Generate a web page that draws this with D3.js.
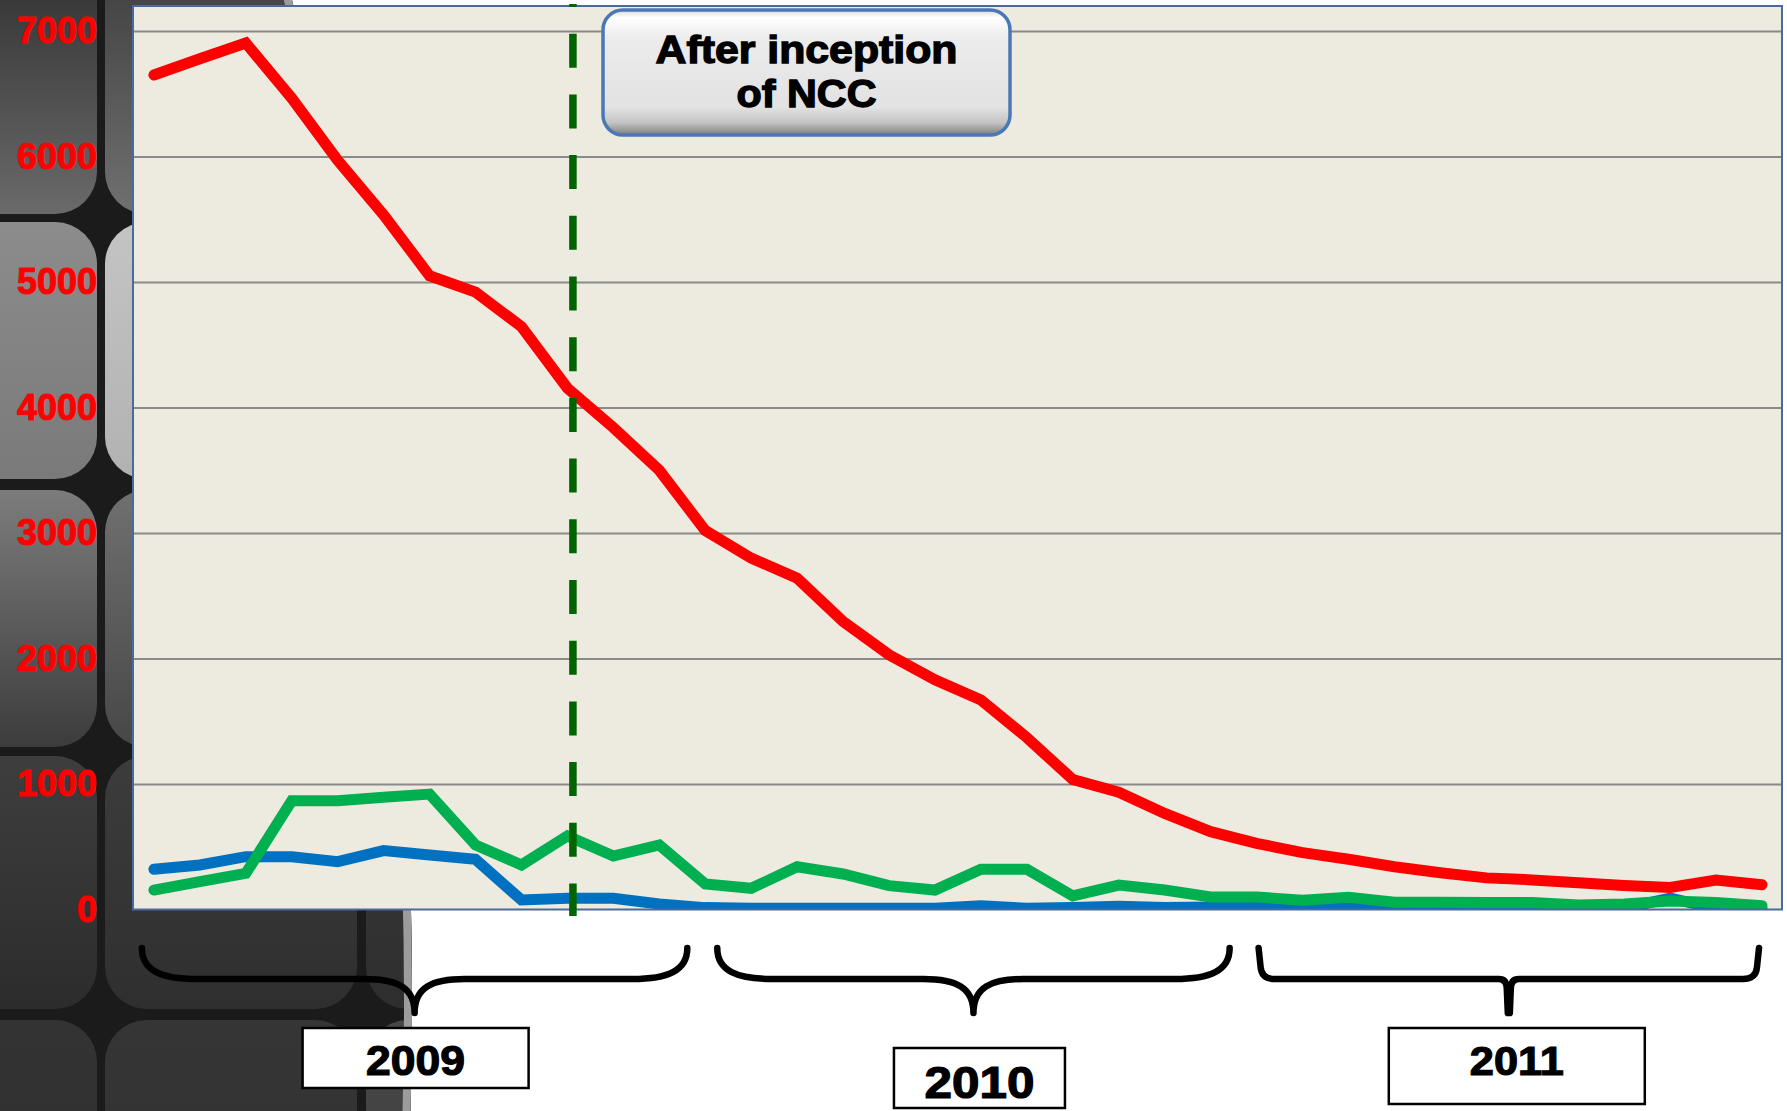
<!DOCTYPE html>
<html>
<head>
<meta charset="utf-8">
<script src="https://cdn.jsdelivr.net/npm/d3@7"></script>
<style>
  html, body { margin: 0; padding: 0; background: #ffffff; }
  svg { display: block; }
  text { font-family: "Liberation Sans", Arial, sans-serif; }
</style>
</head>
<body>
<svg id="chart" width="1787" height="1111"></svg>
<script>
// ---------------- DATA ----------------
const months = [
  "Jan 2009","Feb 2009","Mar 2009","Apr 2009","May 2009","Jun 2009","Jul 2009","Aug 2009","Sep 2009","Oct 2009","Nov 2009","Dec 2009",
  "Jan 2010","Feb 2010","Mar 2010","Apr 2010","May 2010","Jun 2010","Jul 2010","Aug 2010","Sep 2010","Oct 2010","Nov 2010","Dec 2010",
  "Jan 2011","Feb 2011","Mar 2011","Apr 2011","May 2011","Jun 2011","Jul 2011","Aug 2011","Sep 2011","Oct 2011","Nov 2011","Dec 2011"
];
const redSeries = [6650, 6780, 6905, 6465, 5970, 5535, 5050, 4920, 4645, 4155, 3840, 3500,
                   3020, 2800, 2640, 2295, 2030, 1830, 1670, 1370, 1035, 935, 766, 620,
                   527, 453, 400, 341, 293, 252, 236, 213, 192, 175, 235, 198];
const greenSeries = [155, 222, 288, 867, 867, 894, 920, 514, 355, 586, 426, 514,
                     203, 169, 341, 283, 190, 155, 320, 320, 108, 195, 155, 100,
                     100, 74, 97, 58, 57, 55, 55, 36, 44, 68, 55, 30];
const blueSeries = [320, 355, 421, 421, 381, 469, 434, 400, 76, 89, 89, 44,
                    15, 10, 10, 10, 10, 10, 30, 10, 15, 25, 15, 20,
                    25, 20, 15, 20, 10, 8, 5, 5, 10, 90, 8, 8];
const yTicks = [0, 1000, 2000, 3000, 4000, 5000, 6000, 7000];
const yMax = 7200;
const years = ["2009", "2010", "2011"];
const yearFirstMonth = [0, 12, 24];
const yearLastMonth = [11, 23, 35];
const nccMonthPos = 9.12;           // position of "After inception of NCC" marker (in month index units)
const annotationLines = ["After inception", "of NCC"];

// ---------------- LAYOUT ----------------
const W = 1787, H = 1111;
const plot = { left: 133, right: 1782, top: 6, bottom: 909.5 };
const svg = d3.select("#chart");
const defs = svg.append("defs");

// ---------------- BACKGROUND DECORATION ----------------
svg.append("rect").attr("width", W).attr("height", H).attr("fill", "#ffffff");
const bigCircle = { cx: -3815, cy: 1000, r: 4227 };
defs.append("clipPath").attr("id", "bgclip")
  .append("circle").attr("cx", bigCircle.cx).attr("cy", bigCircle.cy).attr("r", bigCircle.r);
const bg = svg.append("g").attr("clip-path", "url(#bgclip)");
bg.append("rect").attr("width", 600).attr("height", H).attr("fill", "#1b1b1b");

const tileCols = [[-60, 97], [105, 357], [366, 640]];
const tileRows = [[-60, 214], [222, 479], [490, 747], [756, 1009], [1020, 1300]];
const tileGrad = [
  [["#2c2c2c", "#6a6a6a"], ["#8c8c8c", "#7a7a7a"], ["#7c7c7c", "#3c3c3c"], ["#3e3e3e", "#2c2c2c"], ["#333333", "#2e2e2e"]],
  [["#3a3a3a", "#707070"], ["#c4c4c4", "#b2b2b2"], ["#707070", "#474747"], ["#3c3c3c", "#2f2f2f"], ["#353535", "#303030"]],
  [["#3a3a3a", "#6a6a6a"], ["#9a9a9a", "#8a8a8a"], ["#606060", "#444444"], ["#3a3a3a", "#2e2e2e"], ["#474747", "#3d3d3d"]]
];
tileCols.forEach((c, ci) => {
  tileRows.forEach((r, ri) => {
    const id = `tg${ci}_${ri}`;
    const g = defs.append("linearGradient").attr("id", id).attr("x1", 0).attr("y1", 0).attr("x2", 0).attr("y2", 1);
    g.append("stop").attr("offset", "0%").attr("stop-color", tileGrad[ci][ri][0]);
    g.append("stop").attr("offset", "100%").attr("stop-color", tileGrad[ci][ri][1]);
    bg.append("rect").attr("x", c[0]).attr("y", r[0]).attr("width", c[1] - c[0]).attr("height", r[1] - r[0])
      .attr("rx", 42).attr("ry", 42).attr("fill", `url(#${id})`);
  });
});
svg.append("circle").attr("cx", bigCircle.cx).attr("cy", bigCircle.cy).attr("r", bigCircle.r - 4)
  .attr("fill", "none").attr("stroke", "#9c9c9c").attr("stroke-width", 8);

// ---------------- SCALES ----------------
const x = d3.scaleLinear().domain([0, months.length - 1]).range([153.9, 1762]);
const y = d3.scaleLinear().domain([0, yMax]).range([plot.bottom, plot.top]);
const plotW = plot.right - plot.left;

// plot background
svg.append("rect").attr("x", plot.left).attr("y", plot.top)
  .attr("width", plotW).attr("height", plot.bottom - plot.top).attr("fill", "#edeadf");

// gridlines
const grid = svg.append("g").attr("transform", `translate(${plot.left},0)`)
  .call(d3.axisLeft(y).tickValues(yTicks.filter(t => t > 0)).tickSize(-plotW).tickFormat(""));
grid.select(".domain").remove();
grid.selectAll(".tick line").attr("stroke", "#8a8a8a").attr("stroke-width", 2);

// y axis labels
const yAxis = svg.append("g").attr("transform", `translate(${plot.left},0)`)
  .call(d3.axisLeft(y).tickValues(yTicks).tickSize(0).tickPadding(36).tickFormat(d3.format("d")));
yAxis.select(".domain").remove();
yAxis.selectAll(".tick text")
  .attr("fill", "#ff0000").attr("font-size", 36).attr("font-weight", "bold")
  .attr("stroke", "#ff0000").attr("stroke-width", 1)
  .attr("font-family", "'Liberation Sans', Arial, sans-serif");

// ---------------- LINES ----------------
defs.append("clipPath").attr("id", "plotclip")
  .append("rect").attr("x", plot.left).attr("y", plot.top).attr("width", plotW).attr("height", plot.bottom - plot.top);
const line = d3.line().x((d, i) => x(i)).y(d => y(d));
const linesG = svg.append("g").attr("clip-path", "url(#plotclip)");
[[blueSeries, "#0070c0"], [greenSeries, "#00b050"], [redSeries, "#ff0000"]].forEach(([s, c]) => {
  linesG.append("path").datum(s).attr("d", line)
    .attr("fill", "none").attr("stroke", c).attr("stroke-width", 11)
    .attr("stroke-linecap", "round").attr("stroke-linejoin", "miter").attr("stroke-miterlimit", 3);
});

// plot border
svg.append("rect").attr("x", plot.left).attr("y", plot.top)
  .attr("width", plotW).attr("height", plot.bottom - plot.top)
  .attr("fill", "none").attr("stroke", "#4a6a9c").attr("stroke-width", 2);

// ---------------- NCC MARKER ----------------
svg.append("line")
  .attr("x1", x(nccMonthPos)).attr("x2", x(nccMonthPos))
  .attr("y1", 4).attr("y2", 916)
  .attr("stroke", "#006400").attr("stroke-width", 7.5)
  .attr("stroke-dasharray", "34 26.7").attr("stroke-dashoffset", 31);

// annotation box
const boxGrad = defs.append("linearGradient").attr("id", "boxgrad").attr("x1", 0).attr("y1", 0).attr("x2", 0).attr("y2", 1);
[["0%", "#d8d8d8"], ["6%", "#ffffff"], ["22%", "#ececec"], ["78%", "#e2e2e2"], ["90%", "#c4c4c4"], ["100%", "#7e7e7e"]]
  .forEach(([o, c]) => boxGrad.append("stop").attr("offset", o).attr("stop-color", c));
const box = { x: 603, y: 10, w: 407, h: 125 };
svg.append("rect").attr("x", box.x).attr("y", box.y).attr("width", box.w).attr("height", box.h)
  .attr("rx", 20).attr("ry", 20).attr("fill", "url(#boxgrad)")
  .attr("stroke", "#4a78b5").attr("stroke-width", 3.5);
const annLens = [302, 140];
const annBase = [63, 107];
annotationLines.forEach((t, i) => {
  svg.append("text").attr("x", box.x + box.w / 2).attr("y", annBase[i])
    .attr("text-anchor", "middle").attr("font-size", 38).attr("font-weight", "bold")
    .attr("stroke", "#000").attr("stroke-width", 1.3)
    .attr("textLength", annLens[i]).attr("lengthAdjust", "spacingAndGlyphs")
    .attr("fill", "#000").text(t);
});

// ---------------- YEAR BRACES ----------------
const bracePad = [[-12, 28], [12, 19], [2, -3]];
const braceStyle = ["curly", "curly", "square"];
const yT = 948, yHz = 979, yTip = 1013;
function bracePath(L, R, style) {
  const M = (L + R) / 2;
  const p = d3.path();
  if (style === "curly") {
    p.moveTo(L, yT);
    p.bezierCurveTo(L, yHz - 8, L + 20, yHz, L + 55, yHz);
    p.lineTo(M - 50, yHz);
    p.bezierCurveTo(M - 18, yHz, M, yHz + 8, M, yTip);
    p.moveTo(M, yTip);
    p.bezierCurveTo(M, yHz + 8, M + 18, yHz, M + 50, yHz);
    p.lineTo(R - 55, yHz);
    p.bezierCurveTo(R - 20, yHz, R, yHz - 8, R, yT);
  } else {
    p.moveTo(L, yT);
    p.lineTo(L + 2, yHz - 12);
    p.quadraticCurveTo(L + 3, yHz, L + 16, yHz);
    p.lineTo(M - 10, yHz);
    p.quadraticCurveTo(M - 2, yHz, M - 2, yHz + 10);
    p.lineTo(M - 1, yTip);
    p.moveTo(M + 1, yTip);
    p.lineTo(M + 2, yHz + 10);
    p.quadraticCurveTo(M + 2, yHz, M + 10, yHz);
    p.lineTo(R - 16, yHz);
    p.quadraticCurveTo(R - 3, yHz, R - 2, yHz - 12);
    p.lineTo(R, yT);
  }
  return p.toString();
}
const yearBox = [
  { w: 226, h: 60, y: 1028, dx: 1, fs: 42, tl: 99, ty: 1060 },
  { w: 171, h: 60, y: 1048, dx: 6, fs: 44, tl: 110, ty: 1082 },
  { w: 256, h: 76, y: 1028, dx: 8, fs: 41, tl: 94, ty: 1060 }
];
years.forEach((yr, i) => {
  const L = x(yearFirstMonth[i]) + bracePad[i][0];
  const R = x(yearLastMonth[i]) + bracePad[i][1];
  const M = (L + R) / 2;
  svg.append("path").attr("d", bracePath(L, R, braceStyle[i]))
    .attr("fill", "none").attr("stroke", "#000").attr("stroke-width", 6.5)
    .attr("stroke-linecap", "round").attr("stroke-linejoin", "round");
  const b = yearBox[i];
  const cx = M + b.dx;
  svg.append("rect").attr("x", cx - b.w / 2).attr("y", b.y).attr("width", b.w).attr("height", b.h)
    .attr("fill", "#ffffff").attr("stroke", "#000").attr("stroke-width", 2.5);
  svg.append("text").attr("x", cx).attr("y", b.ty).attr("dy", "0.36em")
    .attr("text-anchor", "middle").attr("font-size", b.fs).attr("font-weight", "bold")
    .attr("stroke", "#000").attr("stroke-width", 1.2)
    .attr("textLength", b.tl).attr("lengthAdjust", "spacingAndGlyphs")
    .attr("fill", "#000").text(yr);
});
</script>
</body>
</html>
